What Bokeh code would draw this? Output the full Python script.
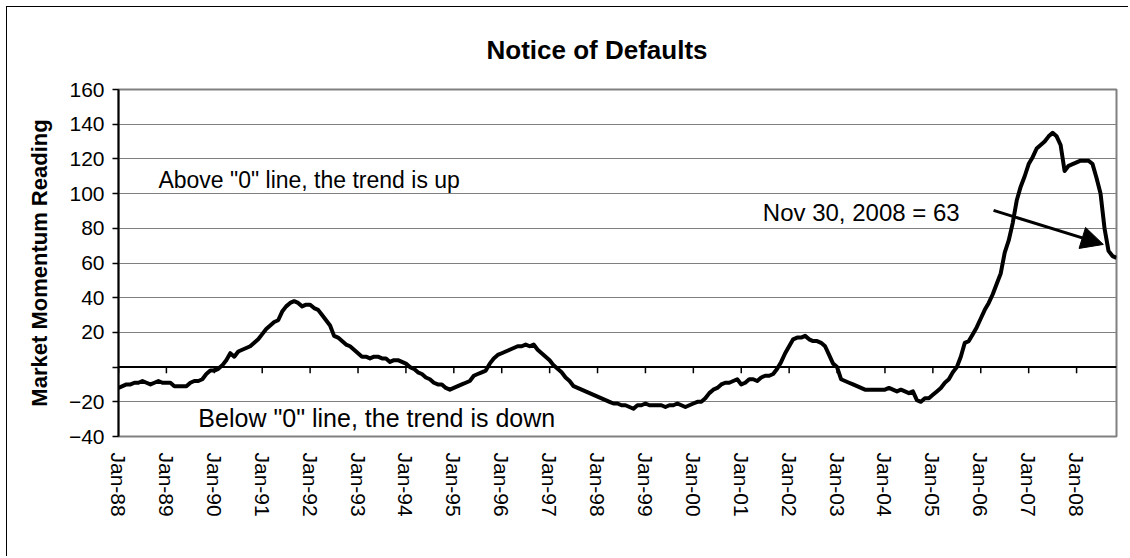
import math
from bokeh.plotting import figure
from bokeh.models import Range1d, FixedTicker, Label, Arrow, NormalHead, Span, Title
from bokeh.embed import file_html
from bokeh.resources import INLINE

# ---- data (monthly, Jan-88 .. Nov-08) ----
values = [
    # 1988
    -12, -11, -10, -10, -9, -9, -8, -9, -10, -9, -8, -9,
    # 1989
    -9, -9, -11, -11, -11, -11, -9, -8, -8, -7, -4, -2,
    # 1990
    -2, -1, 1, 4, 8, 6, 9, 10, 11, 12, 14, 16,
    # 1991
    19, 22, 24, 26, 27, 32, 35, 37, 38, 37, 35, 36,
    # 1992
    36, 34, 33, 30, 27, 24, 18, 17, 15, 13, 12, 10,
    # 1993
    8, 6, 6, 5, 6, 6, 5, 5, 3, 4, 4, 3,
    # 1994
    2, 0, -1, -3, -4, -6, -7, -9, -10, -10, -12, -13,
    # 1995
    -12, -11, -10, -9, -8, -5, -4, -3, -2, 2, 5, 7,
    # 1996
    8, 9, 10, 11, 12, 12, 13, 12, 13, 10, 8, 6,
    # 1997
    4, 1, -1, -3, -6, -8, -11, -12, -13, -14, -15, -16,
    # 1998
    -17, -18, -19, -20, -21, -21, -22, -22, -23, -24, -22, -22,
    # 1999
    -21, -22, -22, -22, -22, -23, -22, -22, -21, -22, -23, -22,
    # 2000
    -21, -20, -20, -18, -15, -13, -12, -10, -9, -9, -8, -7,
    # 2001
    -10, -9, -7, -7, -8, -6, -5, -5, -4, -1, 3, 8,
    # 2002
    12, 16, 17, 17, 18, 16, 15, 15, 14, 12, 7, 2,
    # 2003
    0, -7, -8, -9, -10, -11, -12, -13, -13, -13, -13, -13,
    # 2004
    -13, -12, -13, -14, -13, -14, -15, -14, -19, -20, -18, -18,
    # 2005
    -16, -14, -12, -9, -7, -3, 0, 6, 14, 15, 19, 23,
    # 2006
    28, 33, 37, 42, 48, 54, 66, 73, 83, 96, 104, 110,
    # 2007
    117, 121, 126, 128, 130, 133, 135, 133, 128, 113, 116, 117,
    # 2008
    118, 119, 119, 119, 117, 109, 100, 80, 67, 64, 63,
]
x_labels = ["Jan-88", "Jan-89", "Jan-90", "Jan-91", "Jan-92", "Jan-93", "Jan-94",
            "Jan-95", "Jan-96", "Jan-97", "Jan-98", "Jan-99", "Jan-00", "Jan-01",
            "Jan-02", "Jan-03", "Jan-04", "Jan-05", "Jan-06", "Jan-07", "Jan-08"]
y_ticks = [-40, -20, 0, 20, 40, 60, 80, 100, 120, 140, 160]

title_text = "Notice of Defaults"
y_title = "Market Momentum Reading"
note_up = 'Above "0" line, the trend is up'
note_down = 'Below "0" line, the trend is down'
note_last = "Nov 30, 2008 = 63"

FONT = "Liberation Sans"

months = list(range(len(values)))
tick_pos = [12 * k for k in range(len(x_labels))]

p = figure(width=1122, height=550, output_backend="svg", toolbar_location=None,
           x_range=Range1d(0, len(values) - 1), y_range=Range1d(-40, 160),
           min_border_left=111, min_border_right=13, min_border_top=82,
           min_border_bottom=121)
p.styles = {"margin-left": "6px", "margin-top": "6px",
            "border-left": "1px solid black", "border-top": "1px solid black"}
p.background_fill_color = "white"
p.border_fill_color = "white"
p.outline_line_color = "#808080"
p.outline_line_width = 2

p.add_layout(Title(text=title_text, align="left", offset=368, standoff=50,
                   text_font=FONT, text_font_size="26px", text_font_style="bold",
                   text_color="black"), "above")

# y axis
ya = p.yaxis[0]
ya.ticker = FixedTicker(ticks=y_ticks)
ya.major_label_overrides = {0: ""}
ya.axis_line_color = "black"
ya.axis_line_width = 2
ya.major_tick_line_color = "black"
ya.major_tick_line_width = 1.5
ya.major_tick_out = 6
ya.major_tick_in = 0
ya.minor_tick_line_color = None
ya.major_label_standoff = 8
ya.major_label_text_font = FONT
ya.major_label_text_font_size = "21px"
ya.major_label_text_color = "black"
ya.axis_label = y_title
ya.axis_label_text_font = FONT
ya.axis_label_text_font_size = "22px"
ya.axis_label_text_font_style = "bold"
ya.axis_label_text_color = "black"
ya.axis_label_standoff = 14

# x axis (labels only, at bottom of plot area)
xa = p.xaxis[0]
xa.ticker = FixedTicker(ticks=tick_pos)
xa.major_label_overrides = {pos: lab for pos, lab in zip(tick_pos, x_labels)}
xa.axis_line_color = None
xa.major_tick_line_color = None
xa.minor_tick_line_color = None
xa.major_label_orientation = -math.pi / 2
xa.major_label_standoff = 10
xa.major_label_text_font = FONT
xa.major_label_text_font_size = "21px"
xa.major_label_text_color = "black"

p.xgrid.visible = False
p.ygrid.ticker = FixedTicker(ticks=y_ticks)
p.ygrid.grid_line_color = "#808080"
p.ygrid.grid_line_width = 1

# zero line with its tick marks
p.add_layout(Span(location=0, dimension="width", line_color="black", line_width=2))
p.segment(x0=tick_pos, y0=[0] * len(tick_pos), x1=tick_pos, y1=[-3.5] * len(tick_pos),
          line_color="black", line_width=1.5)

# series
p.line(months, values, line_color="black", line_width=4, line_join="round")

# notes
p.add_layout(Label(x=10.0, y=107.6, text=note_up, text_font=FONT, text_font_size="23px",
                   text_align="left", text_baseline="middle", text_color="black"))
p.add_layout(Label(x=20.0, y=-29.6, text=note_down, text_font=FONT, text_font_size="25px",
                   text_align="left", text_baseline="middle", text_color="black"))
p.add_layout(Label(x=161.4, y=89.1, text=note_last, text_font=FONT, text_font_size="24px",
                   text_align="left", text_baseline="middle", text_color="black"))
p.add_layout(Arrow(x_start=219.2, y_start=90.3, x_end=246.7, y_end=70.7,
                   line_color="black", line_width=3,
                   end=NormalHead(size=22, fill_color="black", line_color="black")))

open("out.html", "w").write(file_html(p, INLINE))
